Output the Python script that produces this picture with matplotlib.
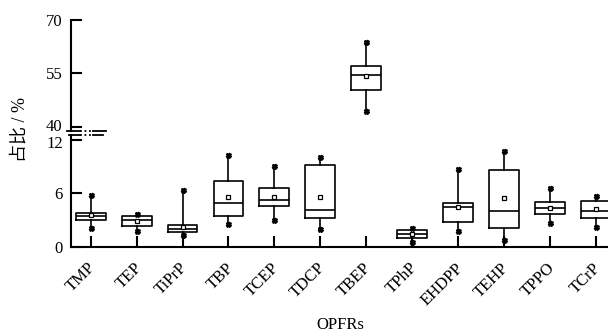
import matplotlib
matplotlib.use("Agg")
import matplotlib.pyplot as plt
from matplotlib.lines import Line2D
from matplotlib.transforms import ScaledTranslation

plt.rcParams['font.family'] = ['Liberation Serif', 'Noto Sans CJK SC', 'DejaVu Sans']

categories = ["TMP", "TEP", "TiPrP", "TBP", "TCEP", "TDCP", "TBEP", "TPhP",
              "EHDPP", "TEHP", "TPPO", "TCrP"]
whislo = [2.12, 1.82, 1.29, 2.58, 3.00, 1.97, 44.5, 0.57, 1.75, 0.76, 2.72, 2.27]
q1     = [3.00, 2.38, 1.67, 3.45, 4.62, 3.18, 50.2, 0.99, 2.80, 2.16, 3.68, 3.26]
med    = [3.40, 3.00, 2.00, 4.93, 5.27, 4.13, 54.4, 1.44, 4.50, 4.02, 4.36, 4.02]
q3     = [3.83, 3.40, 2.43, 7.38, 6.63, 9.16, 57.1, 1.90, 4.88, 8.67, 5.04, 5.15]
whishi = [5.83, 3.68, 6.36, 10.37, 9.05, 10.15, 63.9, 2.09, 8.74, 10.78, 6.66, 5.72]
means  = [3.56, 2.88, 2.27, 5.56, 5.60, 5.56, 54.2, 1.40, 4.47, 5.49, 4.39, 4.20]

upper_ticks = [40, 55, 70]
lower_ticks = [0, 6, 12]

W, H = 608, 335
fig = plt.figure(figsize=(W / 100, H / 100), dpi=100)

def fx(px):
    return px / W

def fy(py):
    return 1 - py / H

left = fx(71)
right = 1.0
ax_up = fig.add_axes([left, fy(130.5), right - left, fy(20) - fy(130.5)])
ax_lo = fig.add_axes([left, fy(246.7), right - left, fy(135) - fy(246.7)])

stats = [dict(whislo=whislo[i], q1=q1[i], med=med[i], q3=q3[i], whishi=whishi[i],
              mean=means[i], fliers=[], label=categories[i])
         for i in range(len(categories))]
pos = list(range(len(categories)))

for ax in (ax_up, ax_lo):
    ax.bxp(stats, positions=pos, widths=0.65, showmeans=True, showcaps=False,
           showfliers=False, patch_artist=False,
           boxprops=dict(color='black', linewidth=1.2),
           whiskerprops=dict(color='black', linewidth=1.2),
           medianprops=dict(color='black', linewidth=1.2),
           meanprops=dict(marker='s', markerfacecolor='white', markeredgecolor='black',
                          markersize=3.2, markeredgewidth=0.9))
    ax.plot(pos, whislo, linestyle='none', marker='X', color='black', markersize=3.6)
    ax.plot(pos, whishi, linestyle='none', marker='X', color='black', markersize=3.6)
    ax.set_xlim(-0.43, 11.27)
    for s in ('top', 'right'):
        ax.spines[s].set_visible(False)
    ax.spines['left'].set_linewidth(1.5)
    ax.spines['bottom'].set_linewidth(1.5)
    ax.tick_params(axis='y', direction='in', length=8, width=1.5, labelsize=12, pad=6)

ax_up.set_ylim(38.875, 70)
ax_up.set_yticks(upper_ticks)
ax_up.spines['bottom'].set_visible(False)
ax_up.tick_params(axis='x', bottom=False, labelbottom=False)

ax_lo.set_ylim(0, 12.57)
ax_lo.set_yticks(lower_ticks)
ax_lo.set_xticks(pos)
ax_lo.set_xticklabels(categories, rotation=45, ha='right', rotation_mode='anchor', fontsize=12)
ax_lo.tick_params(axis='x', direction='in', length=8, width=1.5, pad=8)
shift = ScaledTranslation(-3 / 100, -2 / 100, fig.dpi_scale_trans)
for lbl in ax_lo.get_xticklabels():
    lbl.set_transform(lbl.get_transform() + shift)

# nudge the two labels next to the break apart slightly
fig.canvas.draw()
up_lbl = ax_up.get_yticklabels()[0]
up_lbl.set_transform(up_lbl.get_transform() + ScaledTranslation(0, 1.5 / 100, fig.dpi_scale_trans))
lo_lbl = ax_lo.get_yticklabels()[-1]
lo_lbl.set_transform(lo_lbl.get_transform() + ScaledTranslation(0, -1.5 / 100, fig.dpi_scale_trans))

# break marks
def seg(x0, x1, y, ls):
    fig.add_artist(Line2D([fx(x0), fx(x1)], [fy(y), fy(y)], transform=fig.transFigure,
                          color='black', linewidth=1.3, linestyle=ls))

seg(67, 80, 130.5, '-')
seg(80, 93, 130.5, (0, (1, 1.5)))
seg(93, 106, 130.5, '-')
seg(69, 80, 135, '-')
seg(80, 93, 135, (0, (1, 1.5)))
seg(93, 103, 135, '-')

fig.text(fx(20), fy(129), "占比 / %", rotation=90, ha='center', va='center', fontsize=13)
fig.text(fx(340), fy(325), "OPFRs", ha='center', va='center', fontsize=12)

fig.savefig("out.png", dpi=100)
